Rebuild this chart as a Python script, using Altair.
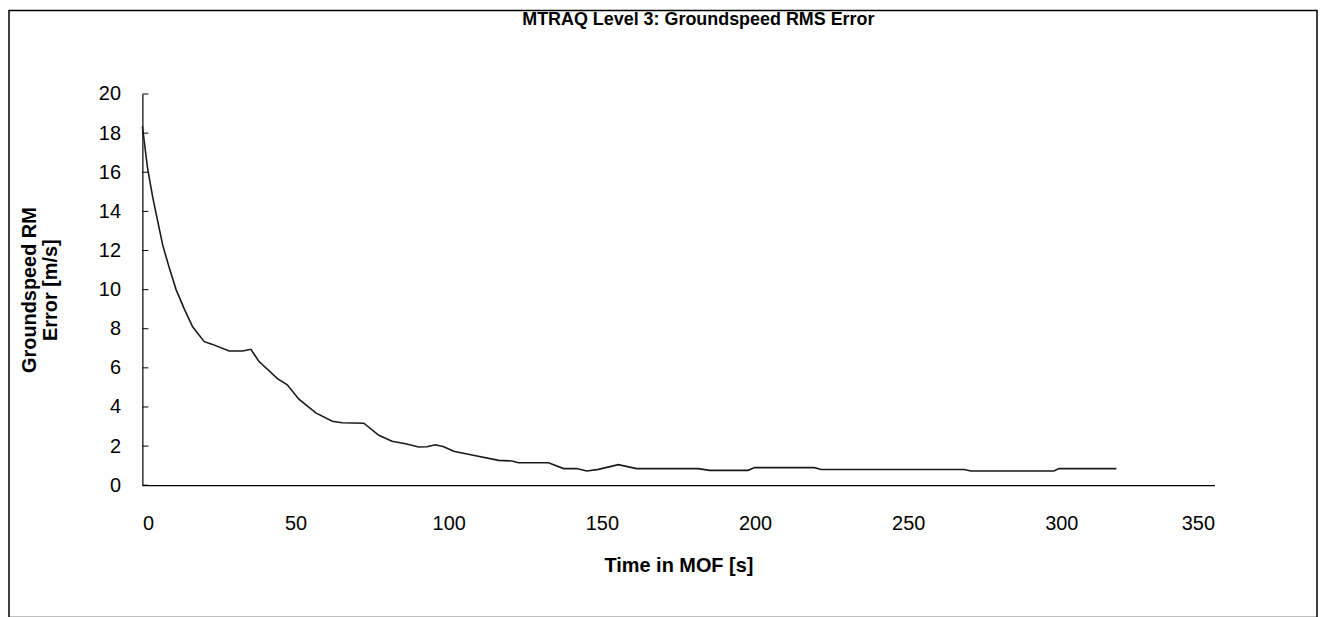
import altair as alt
import pandas as pd

# Time in MOF [s]
t_values = [0, 1.7, 3.4, 5.0, 6.6, 8.8, 11.0, 13.7, 16.4, 20.2, 22.9, 28.3, 32.7, 35.4,
            38.1, 44.1, 47.3, 51.1, 56.6, 62.0, 65.2, 72.3, 77.2, 81.5, 85.9, 90.2,
            92.9, 95.6, 98.4, 101.6, 107.6, 116.3, 120.6, 122.8, 132.6, 137.5, 141.8,
            145.1, 148.9, 155.4, 161.3, 181.4, 185.2, 197.7, 199.9, 219.4, 221.6,
            268.3, 270.5, 297.6, 299.2, 318.0]
# Groundspeed RMS error [m/s]
rms_values = [18.35, 16.2, 14.7, 13.5, 12.3, 11.1, 10.0, 9.0, 8.1, 7.34, 7.2, 6.86, 6.86, 6.95,
              6.32, 5.45, 5.13, 4.4, 3.7, 3.27, 3.19, 3.17, 2.55, 2.25, 2.12, 1.95,
              1.97, 2.07, 1.97, 1.74, 1.54, 1.27, 1.24, 1.15, 1.15, 0.85, 0.85,
              0.73, 0.81, 1.05, 0.85, 0.85, 0.76, 0.76, 0.9, 0.9, 0.8,
              0.8, 0.73, 0.73, 0.85, 0.85]

y_ticks = [0, 2, 4, 6, 8, 10, 12, 14, 16, 18, 20]
x_ticks = [0, 50, 100, 150, 200, 250, 300, 350]

df = pd.DataFrame({"t": t_values, "v": rms_values})
ticks_df = pd.DataFrame({"v": y_ticks})

FONT = "Liberation Sans"
W, H = 1077, 393
PAD = {"left": 135, "top": 85, "right": 104, "bottom": 134}

y_scale = alt.Scale(domain=[0, 20], nice=False)

x_enc = alt.X("t:Q",
              scale=alt.Scale(domain=[0, 350], nice=False),
              axis=alt.Axis(values=x_ticks, title="Time in MOF [s]", grid=False,
                            ticks=False, labelPadding=28, labelFontSize=20,
                            labelFont=FONT, labelColor="black", labelOverlap=False,
                            titleFont=FONT, titleFontSize=20, titleFontWeight="bold",
                            titleColor="black", titlePadding=23,
                            domainColor="black", domainWidth=1.2))
y_axis = alt.Axis(values=y_ticks, title=["Groundspeed RM", "Error [m/s]"],
                  grid=False, ticks=False, labelPadding=22, labelFontSize=20,
                  labelFont=FONT, labelColor="black", labelOverlap=False,
                  titleFont=FONT, titleFontSize=20, titleFontWeight="bold",
                  titleColor="black", titlePadding=38, titleLineHeight=21,
                  domainColor="black", domainWidth=1.2)
y_enc = alt.Y("v:Q", scale=y_scale, axis=y_axis)

line = alt.Chart(df).mark_line(color="#1a1a1a", strokeWidth=1.6).encode(x=x_enc, y=y_enc)

tick_marks = alt.Chart(ticks_df).mark_rule(color="black", strokeWidth=1).encode(
    y=y_enc, x=alt.value(0), x2=alt.value(6))

border = alt.Chart(pd.DataFrame({"a": [1]})).mark_rect(
    filled=False, stroke="black", strokeWidth=1.5, clip=False).encode(
    x=alt.value(-PAD["left"] + 1), x2=alt.value(W + PAD["right"] - 1),
    y=alt.value(-PAD["top"] + 1), y2=alt.value(H + PAD["bottom"] - 1))

chart = alt.layer(border, line, tick_marks).properties(
    width=W, height=H,
    title=alt.TitleParams("MTRAQ Level 3: Groundspeed RMS Error", font=FONT, fontSize=18,
                          fontWeight="bold", color="black", offset=0, dx=20, dy=19),
    autosize=alt.AutoSizeParams(type="none"),
    padding=PAD,
    background="white",
).configure_view(strokeWidth=0)

chart.save("out.html", embed_options={"renderer": "svg", "actions": False})
